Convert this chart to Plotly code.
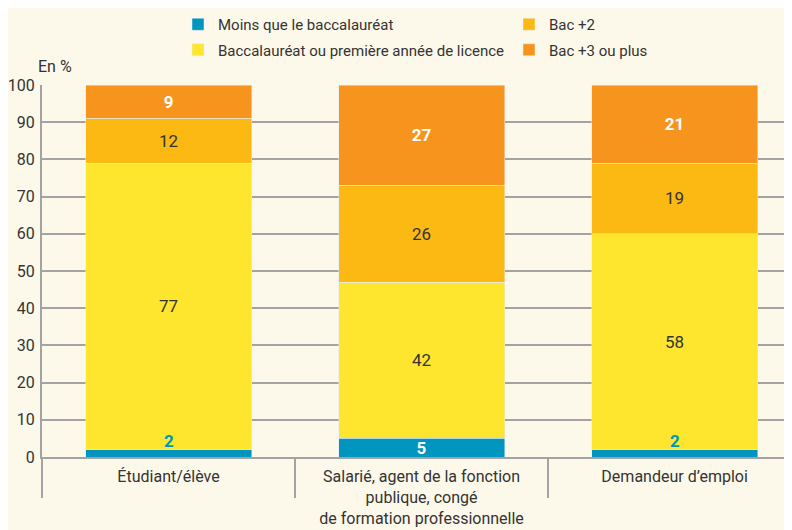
import plotly.graph_objects as go

categories = ["Étudiant/élève",
              "Salarié, agent de la fonction<br>publique, congé<br>de formation professionnelle",
              "Demandeur d’emploi"]
series_names = ["Moins que le baccalauréat",
                "Baccalauréat ou première année de licence",
                "Bac +2",
                "Bac +3 ou plus"]
moins_bac = [2, 5, 2]
bac_licence = [77, 42, 58]
bac2 = [12, 26, 19]
bac3 = [9, 27, 21]
y_ticks = [0, 10, 20, 30, 40, 50, 60, 70, 80, 90, 100]

colors = ["#0095BF", "#FEE62F", "#FDB913", "#F7941D"]
BG = "#FDF9EA"
GRID = "#A3A3A3"
TXT = "#333333"
FONT = "Roboto, sans-serif"
FS = 17

# the page body adds an 8px offset; size the figure to fill the 792x530 window
W, H = 784, 522
ml, mr, mt, mb = 34, 0, 77, 73
pw, ph = W - ml - mr, H - mt - mb

x = list(range(len(categories)))
fig = go.Figure()

blue_show = [v >= 4 for v in moins_bac]
fig.add_trace(go.Bar(x=x, y=moins_bac, name=series_names[0], marker_color=colors[0],
                     text=[str(v) if s else "" for v, s in zip(moins_bac, blue_show)],
                     textposition="inside", insidetextanchor="middle", textangle=0,
                     constraintext="none", legendgroup="a",
                     textfont=dict(color="white", size=FS, family=FONT, weight="bold"),
                     legend="legend"))
fig.add_trace(go.Bar(x=x, y=bac_licence, name=series_names[1], marker_color=colors[1],
                     text=[str(v) for v in bac_licence], textposition="inside",
                     insidetextanchor="middle", textangle=0, legendgroup="b",
                     textfont=dict(color=TXT, size=FS, family=FONT),
                     legend="legend"))
fig.add_trace(go.Bar(x=x, y=bac2, name=series_names[2], marker_color=colors[2],
                     text=[str(v) for v in bac2], textposition="inside",
                     insidetextanchor="middle", textangle=0, legendgroup="c",
                     textfont=dict(color=TXT, size=FS, family=FONT),
                     legend="legend2"))
fig.add_trace(go.Bar(x=x, y=bac3, name=series_names[3], marker_color=colors[3],
                     text=[str(v) for v in bac3], textposition="inside",
                     insidetextanchor="middle", textangle=0, legendgroup="d",
                     textfont=dict(color="white", size=FS, family=FONT, weight="bold"),
                     legend="legend2"))

annotations = []
for xi, v, s in zip(x, moins_bac, blue_show):
    if not s:
        annotations.append(dict(x=xi, y=v, xref="x", yref="y", text=f"<b>{v}</b>",
                                showarrow=False, yanchor="bottom", yshift=-3,
                                font=dict(color=colors[0], size=FS, family=FONT)))
annotations.append(dict(x=(28 - ml) / pw, y=(H - mb - 58) / ph, xref="paper", yref="paper",
                        text="En %", showarrow=False, xanchor="left", yanchor="middle",
                        font=dict(color=TXT, size=FS - 1, family=FONT)))

legend_common = dict(orientation="v", bgcolor="rgba(0,0,0,0)", traceorder="grouped",
                     font=dict(size=15, family=FONT, color=TXT), itemwidth=30,
                     tracegroupgap=3,
                     xref="container", yref="container", xanchor="left", yanchor="top")

fig.update_layout(
    width=W, height=H,
    margin=dict(l=ml, r=mr, t=mt, b=mb, autoexpand=False),
    paper_bgcolor=BG, plot_bgcolor=BG,
    barmode="stack", bargap=0.344,
    font=dict(family=FONT, size=FS, color=TXT),
    showlegend=True,
    legend=dict(x=170 / W, y=1 + 3 / H, **legend_common),
    legend2=dict(x=501 / W, y=1 + 3 / H, **legend_common),
    annotations=annotations,
)
fig.update_xaxes(range=[-0.5, 2.464], tickmode="array", tickvals=x, ticktext=categories,
                 ticks="", showgrid=False, zeroline=False, showline=True, automargin=False,
                 linecolor=GRID, linewidth=2,
                 minor=dict(tick0=-0.5, dtick=1, ticks="outside", ticklen=39,
                            tickcolor=GRID, tickwidth=1.5, showgrid=False),
                 tickfont=dict(size=FS - 1, family=FONT, color=TXT), ticklabelstandoff=4)
fig.update_yaxes(range=[0, 100], tickmode="array", tickvals=y_ticks, automargin=False,
                 showgrid=True, gridcolor=GRID, gridwidth=1.5, zeroline=False,
                 showline=True, linecolor=GRID, linewidth=2, ticks="",
                 tickfont=dict(size=16, family=FONT, color=TXT), ticklabelstandoff=2)

fig.write_html("out.html")
